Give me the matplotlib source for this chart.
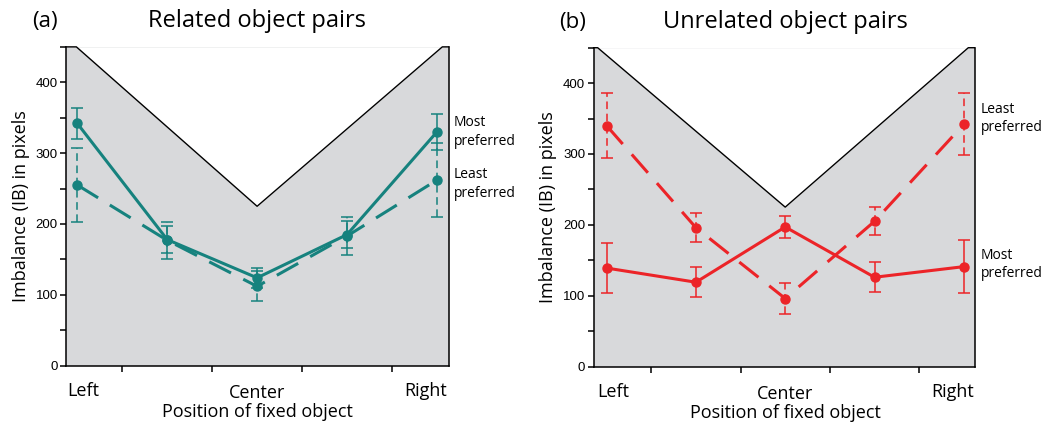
import matplotlib
matplotlib.use("Agg")
import matplotlib.pyplot as plt

plt.rcParams['font.family'] = ['Open Sans', 'DejaVu Sans']

positions = [0, 1, 2, 3, 4]
pos_labels = ["Left", "Center", "Right"]

# (a) related object pairs
rel_most = [342, 178, 124, 185, 330]
rel_most_err = [22, 19, 14, 19, 25]
rel_least = [255, 177, 112, 183, 262]
rel_least_err = [52, 26, 21, 27, 52]

# (b) unrelated object pairs
unrel_most = [139, 119, 197, 126, 141]
unrel_most_err = [35, 21, 15, 21, 37]
unrel_least = [340, 196, 96, 205, 342]
unrel_least_err = [46, 20, 22, 20, 44]

# upper bound of the imbalance (V shape)
bound_x = [0, 2, 4]
bound_y = [450, 225, 450]

teal = "#16827e"
red = "#ec2428"
grey = "#d8d9db"


def panel(ax, most, most_err, least, least_err, color, xlim, vx,
          tag, title, labels):
    ax.set_xlim(*xlim)
    ax.set_ylim(0, 450)
    ax.set_facecolor(grey)

    # white area above the bound, black outline
    ax.fill_between(vx, bound_y, 450, color="white", lw=0, zorder=1)
    ax.plot([xlim[0], vx[0], vx[1], vx[2], xlim[1]],
            [450, bound_y[0], bound_y[1], bound_y[2], 450],
            color="black", lw=1.0, zorder=2, clip_on=False)

    # least preferred: dashed
    ax.plot(positions, least, color=color, lw=2.2,
            linestyle=(0, (8, 4.5)), marker="o", markersize=6.5, zorder=3)
    eb = ax.errorbar(positions, least, yerr=least_err, fmt="none",
                     ecolor=color, elinewidth=1.1, capsize=4,
                     capthick=1.1, zorder=3)
    eb[2][0].set_linestyle((0, (5, 3)))

    # most preferred: solid
    ax.plot(positions, most, color=color, lw=2.2, marker="o",
            markersize=6.5, zorder=4)
    ax.errorbar(positions, most, yerr=most_err, fmt="none", ecolor=color,
                elinewidth=1.1, capsize=4, capthick=1.1, zorder=4)

    ax.spines["top"].set_visible(False)
    for s in ["left", "right", "bottom"]:
        ax.spines[s].set_linewidth(1.1)
        ax.spines[s].set_zorder(5)

    ax.set_yticks(range(0, 451, 50))
    ax.set_yticklabels([str(v) if v % 100 == 0 else "" for v in range(0, 451, 50)],
                       family=["Liberation Sans"], fontsize=9.5)
    ax.tick_params(axis="y", length=4, width=1.1, pad=2)
    ax.set_xticks([0.5, 1.5, 2.5, 3.5])
    ax.set_xticklabels([])
    ax.tick_params(axis="x", length=4, width=1.1)

    tr = ax.get_xaxis_transform()
    ax.text(0.07, -0.08, labels[0], transform=tr, ha="center", va="center",
            fontsize=13)
    ax.text(2, -0.085, labels[1], transform=tr, ha="center", va="center",
            fontsize=13)
    ax.text(3.87, -0.08, labels[2], transform=tr, ha="center", va="center",
            fontsize=13)
    ax.text(2, -0.145, "Position of fixed object", transform=tr,
            ha="center", va="center", fontsize=13)
    ax.set_ylabel("Imbalance (IB) in pixels", fontsize=13, labelpad=4)

    ax.text(2, 1.08, title, transform=tr, ha="center", va="center",
            fontsize=17)
    ax.text(-0.055, 1.08, tag, transform=ax.transAxes, ha="center",
            va="center", fontsize=16)


fig = plt.figure(figsize=(10.45, 4.23), dpi=100)
ax1 = fig.add_axes([0.0632, 0.1355, 0.3661, 0.7537])
ax2 = fig.add_axes([0.568, 0.1335, 0.3646, 0.7537])

panel(ax1, rel_most, rel_most_err, rel_least, rel_least_err, teal,
      (-0.125, 4.13), [-0.01, 2, 4.06], "(a)", "Related object pairs",
      pos_labels)
panel(ax2, unrel_most, unrel_most_err, unrel_least, unrel_least_err, red,
      (-0.146, 4.12), [-0.10, 2, 4.05], "(b)", "Unrelated object pairs",
      pos_labels)

ann = dict(ha="left", va="center", fontsize=10, linespacing=1.35)
ax1.text(1.013, 330, "Most\npreferred",
         transform=ax1.get_yaxis_transform(), **ann)
ax1.text(1.013, 256, "Least\npreferred",
         transform=ax1.get_yaxis_transform(), **ann)
ax2.text(1.016, 350, "Least\npreferred",
         transform=ax2.get_yaxis_transform(), **ann)
ax2.text(1.016, 144, "Most\npreferred",
         transform=ax2.get_yaxis_transform(), **ann)

fig.savefig("out.png", dpi=100)
